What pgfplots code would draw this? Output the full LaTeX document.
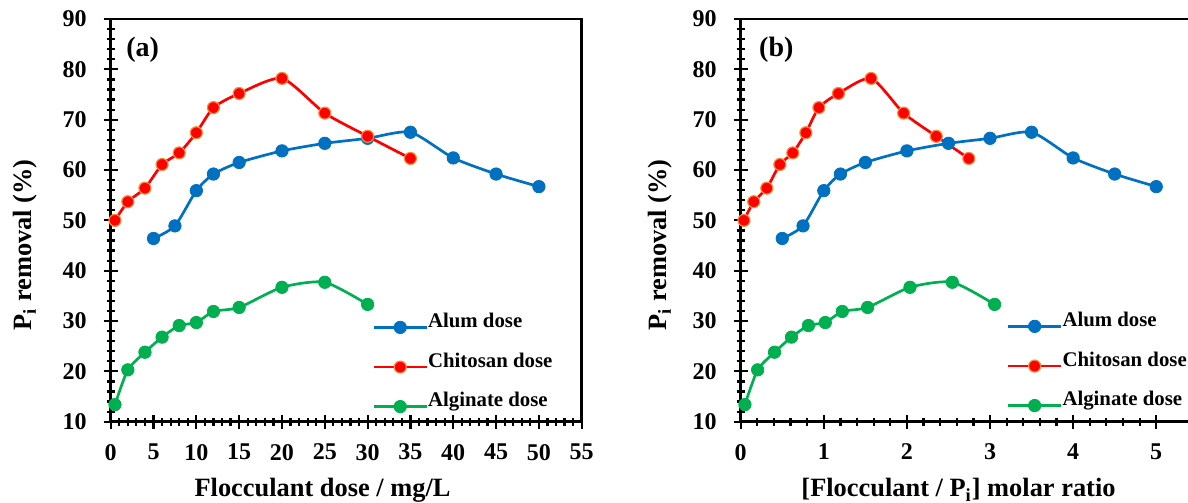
\documentclass[border=0pt]{standalone}
\usepackage{fontspec}
\setmainfont{Liberation Serif}
\usepackage{pgfplots}
\pgfplotsset{compat=1.18}

\definecolor{alum}{RGB}{0,112,192}
\definecolor{chit}{RGB}{255,0,0}
\definecolor{chitedge}{RGB}{240,140,60}
\definecolor{algi}{RGB}{0,176,80}

\pgfplotsset{
  panel/.style={
    scale only axis, height=201.35pt,
    ymin=10, ymax=90, ytick={10,20,...,90},
    minor y tick num=4, minor x tick num=4,
    axis line style={line width=1.3pt},
    tick style={line width=1.1pt, black},
    tick align=center, major tick length=7pt, minor tick length=4pt,
    xtick pos=bottom, ytick pos=left,
    clip=false,
    /pgf/number format/assume math mode=true,
    ticklabel style={font=\bfseries\fontsize{12}{12}\selectfont, inner sep=0pt},
    xticklabel style={anchor=north, yshift=-7.5pt},
    yticklabel style={anchor=east, xshift=-8.3pt},
    label style={font=\bfseries\fontsize{13.2}{14}\selectfont},
    legend style={draw=none, fill=none, inner sep=0pt,
      row sep=9.25pt, column sep=0pt,
      font=\bfseries\fontsize{10.4}{11}\selectfont,
      nodes={inner sep=0pt, text height=7.5pt, text depth=2.5pt, anchor=base west}},
    legend cell align=left,
    legend image code/.code={\draw[mark repeat=2, mark phase=2, #1]
      plot coordinates {(0pt,0pt) (13.25pt,0pt) (26.5pt,0pt)};},
  },
  alumline/.style={alum, line width=1.35pt, smooth, tension=0.4, mark=*,
    mark size=3.1pt, mark options={fill=alum, draw=alum, line width=0.4pt}},
  chitline/.style={chit, line width=1.35pt, smooth, tension=0.4, mark=*,
    mark size=3pt, mark options={fill=chit, draw=chitedge, line width=0.6pt}},
  algiline/.style={algi, line width=1.35pt, smooth, tension=0.4, mark=*,
    mark size=3.1pt, mark options={fill=algi, draw=algi, line width=0.4pt}},
}

\begin{document}
\begin{tikzpicture}
\useasboundingbox (0,0) rectangle (594pt,251.5pt);

% (a) dose in mg/L
\begin{axis}[panel,
  at={(55.35pt,40.65pt)}, anchor=south west, width=235.5pt,
  xmin=0, xmax=55, xtick={0,5,...,55},
  xlabel={Flocculant dose / mg/L},
  ylabel={P\textsubscript{i} removal (\%)},
  xlabel style={at={(axis description cs:0.163,-0.186)}, anchor=base west},
  ylabel style={at={(axis description cs:-0.182,0.4388)}, anchor=center},
  legend style={at={(axis description cs:0.5548,0.2724)}, anchor=north west},
]
\addplot[alumline] coordinates {(5,46.4) (7.5,48.9) (10,55.9) (12,59.2) (15,61.5) (20,63.8)
  (25,65.3) (30,66.3) (35,67.5) (40,62.4) (45,59.2) (50,56.7)};
\addplot[chitline] coordinates {(0.5,50.0) (2,53.7) (4,56.4) (6,61.1) (8,63.4) (10,67.4)
  (12,72.4) (15,75.2) (20,78.2) (25,71.3) (30,66.7) (35,62.3)};
\addplot[algiline] coordinates {(0.5,13.4) (2,20.3) (4,23.8) (6,26.8) (8,29.1) (10,29.7)
  (12,31.9) (15,32.7) (20,36.7) (25,37.7) (30,33.3)};
\legend{Alum dose, Chitosan dose, Alginate dose}
\node[anchor=west, inner sep=0pt, font=\bfseries\fontsize{14}{14}\selectfont]
  at (axis description cs:0.0325,0.923) {(a)};
\end{axis}

% (b) molar ratio
\begin{axis}[panel,
  at={(370.35pt,40.65pt)}, anchor=south west, width=232.7pt,
  xmin=0, xmax=5.6, xtick={0,1,...,5},
  xlabel={[Flocculant / P\textsubscript{i}] molar ratio},
  ylabel={P\textsubscript{i} removal (\%)},
  xlabel style={at={(axis description cs:0.1154,-0.186)}, anchor=base west},
  ylabel style={at={(axis description cs:-0.1734,0.4388)}, anchor=center},
  legend style={at={(axis description cs:0.5709,0.275)}, anchor=north west},
]
\addplot[alumline] coordinates {(0.5,46.4) (0.75,48.9) (1.0,55.9) (1.2,59.2) (1.5,61.5) (2.0,63.8)
  (2.5,65.3) (3.0,66.3) (3.5,67.5) (4.0,62.4) (4.5,59.2) (5.0,56.7)};
\addplot[chitline] coordinates {(0.039,50.0) (0.157,53.7) (0.314,56.4) (0.471,61.1) (0.627,63.4) (0.784,67.4)
  (0.941,72.4) (1.176,75.2) (1.569,78.2) (1.961,71.3) (2.353,66.7) (2.745,62.3)};
\addplot[algiline] coordinates {(0.051,13.4) (0.204,20.3) (0.407,23.8) (0.611,26.8) (0.815,29.1) (1.018,29.7)
  (1.222,31.9) (1.527,32.7) (2.037,36.7) (2.546,37.7) (3.055,33.3)};
\legend{Alum dose, Chitosan dose, Alginate dose}
\node[anchor=west, inner sep=0pt, font=\bfseries\fontsize{14}{14}\selectfont]
  at (axis description cs:0.0389,0.923) {(b)};
\end{axis}
\end{tikzpicture}
\end{document}
